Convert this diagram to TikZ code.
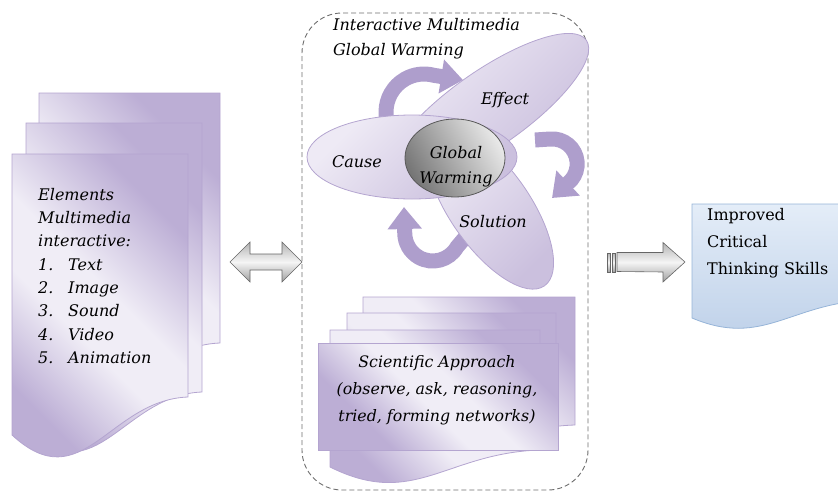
\documentclass[tikz,border=0pt]{standalone}
\usepackage{fontspec}
\setmainfont{DejaVu Serif}
\usetikzlibrary{arrows.meta,shapes.geometric,calc}
\definecolor{pdark}{RGB}{188,174,213}
\definecolor{plight}{RGB}{240,237,246}
\definecolor{pedge}{RGB}{180,165,208}
\definecolor{elight}{RGB}{238,234,245}
\definecolor{edark}{RGB}{203,192,222}
\definecolor{arrowc}{RGB}{174,158,204}
\definecolor{gdark}{RGB}{118,118,118}
\definecolor{glight}{RGB}{232,232,232}
\definecolor{blight}{RGB}{228,237,248}
\definecolor{bdark}{RGB}{188,207,232}
\definecolor{bedge}{RGB}{150,180,216}
\definecolor{frameg}{RGB}{110,110,110}
\pgfdeclarehorizontalshading{lavdoc}{100bp}{color(0bp)=(pdark); color(30bp)=(pdark); color(46bp)=(plight); color(56bp)=(plight); color(74bp)=(pdark); color(100bp)=(pdark)}
\pgfdeclarehorizontalshading{ellh}{100bp}{color(0bp)=(edark); color(28bp)=(edark); color(72bp)=(elight); color(100bp)=(elight)}
\pgfdeclarehorizontalshading{grayh}{100bp}{color(0bp)=(gdark); color(25bp)=(gdark); color(75bp)=(glight); color(100bp)=(glight)}
\pgfdeclareverticalshading{blueh}{100bp}{color(0bp)=(bdark); color(25bp)=(bdark); color(75bp)=(blight); color(100bp)=(blight)}
\pgfdeclareverticalshading{arrowgray}{100bp}{color(0bp)=(gray!75); color(25bp)=(gray!75); color(50bp)=(gray!8); color(75bp)=(gray!60); color(100bp)=(gray!60)}
\newcommand{\docshape}[7]{%
  \pgfmathsetmacro{\mydocw}{#4-#2}%
  \path[#1] (#2,#3) -- (#4,#3) -- (#4,#5) .. controls ({#2+0.55*\mydocw},{#5+3}) and ({#2+0.4*\mydocw},{#6+#7}) .. (#2,#6) -- cycle;}
\begin{document}
\begin{tikzpicture}[x=1pt,y=-1pt,
  docstyle/.style={shading=lavdoc, shading angle=45, draw=pedge, line width=0.8pt},
  ellstyle/.style={ellipse, inner sep=0pt, shading=ellh, shading angle=135, draw=pedge, line width=0.8pt},
  carrow/.style={line width=15pt, draw=arrowc, -{Triangle[length=22pt,width=33pt]}},
  blockarrow/.style={shading=arrowgray, draw=gray!80!black, line width=0.6pt},
  itxt/.style={font=\itshape\fontsize{16}{23.3}\selectfont, inner sep=0pt},
  rtxt/.style={font=\fontsize{16}{27}\selectfont, inner sep=0pt}]
\useasboundingbox (0,0) rectangle (838,493);
\clip (0,0) rectangle (838,493);
% dashed frame
\node[draw=frameg, dashed, dash pattern=on 5pt off 3pt, line width=0.9pt, rounded corners=40pt,
  minimum width=286pt, minimum height=477pt, inner sep=0pt] (frame) at (445,251.5) {};
% left document stack
\docshape{docstyle}{39}{93}{220}{343}{381}{65}
\docshape{docstyle}{26}{123}{202}{392}{430}{65}
\docshape{docstyle}{12}{154}{188}{397}{435}{65}
\node[itxt, anchor=north west, align=left] (elements) at (38,188)
  {Elements\\Multimedia\\interactive:\\\makebox[30pt][l]{1.}Text\\\makebox[30pt][l]{2.}Image\\\makebox[30pt][l]{3.}Sound\\\makebox[30pt][l]{4.}Video\\\makebox[30pt][l]{5.}Animation};
% double arrow
\coordinate (dl) at (230,262);
\coordinate (dr) at (302,262);
\path[blockarrow] (dl) -- ++(20,-20) -- ++(0,12) -- ($(dr)+(-20,-8)$) -- ++(0,-12) -- (dr) -- ++(-20,20) -- ++(0,-12) -- ($(dl)+(20,8)$) -- ++(0,12) -- cycle;
% right arrow
\coordinate (ra) at (617,262);
\coordinate (rb) at (685,262);
\path[blockarrow] (607,253) rectangle (610,272);
\path[blockarrow] (612,253) rectangle (615,272);
\path[blockarrow] ($(ra)+(0,-9.5)$) -- ($(rb)+(-22,-9.5)$) -- ++(0,-10) -- (rb) -- ($(rb)+(-22,20)$) -- ++(0,-10) -- ($(ra)+(0,9.5)$) -- cycle;
% right document
\docshape{shading=blueh, draw=bedge, line width=0.8pt}{692}{204}{870}{300}{318}{30}
\node[rtxt, anchor=north west, align=left] (result) at (707,208) {Improved\\Critical\\Thinking Skills};
% curved arrows
\draw[carrow] (386,128) -- (386,112) arc[start angle=180, end angle=285, radius=38] -- (463,80);
\draw[carrow] (535,140) -- (550,139) arc[start angle=265, end angle=400, radius=25] -- (552,198);
\draw[carrow] (468,234) -- (457,247) arc[start angle=30, end angle=180, radius=28] -- (404,207);
% ellipses
\node[ellstyle, minimum width=190pt, minimum height=80pt, rotate=-55] (solution) at (490,208) {};
\node[ellstyle, minimum width=240pt, minimum height=76pt, rotate=35] (effect) at (488,109) {};
\node[ellstyle, minimum width=210pt, minimum height=84pt] (cause) at (412,157) {};
\node[ellipse, inner sep=0pt, minimum width=100pt, minimum height=78pt, shading=grayh, shading angle=30, draw=gray!70!black, line width=0.8pt] (gw) at (455,158) {};
\node[itxt] (effectlbl) at (505,100) {Effect};
\node[itxt] (causelbl) at (357,162) {Cause};
\node[itxt, align=center, font=\itshape\fontsize{16}{25}\selectfont] (gwlbl) at (456,167) {Global\\Warming};
\node[itxt] (solutionlbl) at (493,222) {Solution};
\node[itxt, anchor=north west, align=left, font=\itshape\fontsize{16}{25}\selectfont] (title) at (333,18) {Interactive Multimedia\\Global Warming};
% scientific approach stack
\docshape{docstyle}{363}{297}{575}{425}{442}{42}
\docshape{docstyle}{347}{313}{556}{435}{452}{42}
\docshape{docstyle}{330}{330}{540}{450}{467}{42}
\path[docstyle] (318,343) rectangle (558,450);
\node[itxt, align=center, font=\itshape\fontsize{15.8}{27}\selectfont] (sci) at (437,390) {Scientific Approach\\(observe, ask, reasoning,\\tried, forming networks)};
\end{tikzpicture}
\end{document}
